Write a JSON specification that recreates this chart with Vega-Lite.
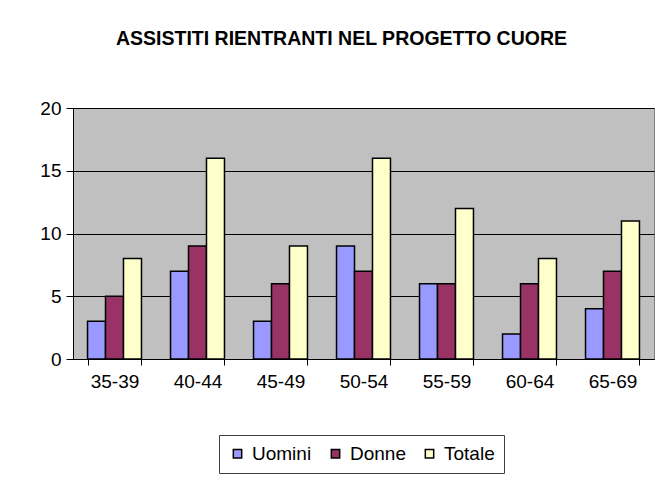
{
  "$schema": "https://vega.github.io/schema/vega-lite/v6.json",
  "width": 581,
  "height": 251,
  "autosize": {"type": "none"},
  "padding": {"left": 73, "top": 108, "right": 6, "bottom": 123},
  "background": "white",
  "title": {
    "text": "ASSISTITI  RIENTRANTI NEL PROGETTO CUORE",
    "font": "Liberation Sans",
    "fontSize": 19.5,
    "fontWeight": "bold",
    "color": "black",
    "anchor": "middle",
    "baseline": "alphabetic",
    "offset": 64,
    "dx": -22,
    "dy": 29
  },
  "data": {
    "values": [
      {"age": "35-39", "serie": "Uomini", "n": 3},
      {"age": "35-39", "serie": "Donne", "n": 5},
      {"age": "35-39", "serie": "Totale", "n": 8},
      {"age": "40-44", "serie": "Uomini", "n": 7},
      {"age": "40-44", "serie": "Donne", "n": 9},
      {"age": "40-44", "serie": "Totale", "n": 16},
      {"age": "45-49", "serie": "Uomini", "n": 3},
      {"age": "45-49", "serie": "Donne", "n": 6},
      {"age": "45-49", "serie": "Totale", "n": 9},
      {"age": "50-54", "serie": "Uomini", "n": 9},
      {"age": "50-54", "serie": "Donne", "n": 7},
      {"age": "50-54", "serie": "Totale", "n": 16},
      {"age": "55-59", "serie": "Uomini", "n": 6},
      {"age": "55-59", "serie": "Donne", "n": 6},
      {"age": "55-59", "serie": "Totale", "n": 12},
      {"age": "60-64", "serie": "Uomini", "n": 2},
      {"age": "60-64", "serie": "Donne", "n": 6},
      {"age": "60-64", "serie": "Totale", "n": 8},
      {"age": "65-69", "serie": "Uomini", "n": 4},
      {"age": "65-69", "serie": "Donne", "n": 7},
      {"age": "65-69", "serie": "Totale", "n": 11}
    ]
  },
  "mark": {"type": "bar", "stroke": "black", "strokeWidth": 1.5, "cornerRadius": 0},
  "encoding": {
    "x": {
      "field": "age",
      "type": "nominal",
      "sort": null,
      "title": null,
      "scale": {"paddingInner": 0.35, "paddingOuter": 0.175},
      "axis": {
        "labelAngle": 0,
        "tickBand": "extent",
        "tickSize": 6,
        "tickColor": "black",
        "domainColor": "black",
        "labelFont": "Liberation Sans",
        "labelFontSize": 19,
        "labelColor": "black",
        "labelPadding": 7,
        "grid": false
      }
    },
    "xOffset": {
      "field": "serie",
      "type": "nominal",
      "sort": ["Uomini", "Donne", "Totale"],
      "scale": {"paddingInner": 0, "paddingOuter": 0}
    },
    "y": {
      "field": "n",
      "type": "quantitative",
      "title": null,
      "scale": {"domain": [0, 20], "nice": false},
      "axis": {
        "values": [0, 5, 10, 15, 20],
        "tickSize": 7,
        "tickColor": "black",
        "domainColor": "black",
        "gridColor": "black",
        "gridOpacity": 1,
        "grid": true,
        "labelFont": "Liberation Sans",
        "labelFontSize": 19,
        "labelColor": "black",
        "labelPadding": 5
      }
    },
    "color": {
      "field": "serie",
      "type": "nominal",
      "sort": ["Uomini", "Donne", "Totale"],
      "scale": {"domain": ["Uomini", "Donne", "Totale"], "range": ["#9999FF", "#993366", "#FFFFCC"]},
      "legend": {
        "title": null,
        "orient": "none",
        "legendX": 146,
        "legendY": 327,
        "direction": "horizontal",
        "symbolType": "square",
        "symbolSize": 70,
        "symbolStrokeColor": "black",
        "symbolStrokeWidth": 1.5,
        "symbolOpacity": 1,
        "labelFont": "Liberation Sans",
        "labelFontSize": 19,
        "labelColor": "black",
        "strokeColor": "#404040",
        "fillColor": "white",
        "padding": 9,
        "columnPadding": 14,
        "labelOffset": 5
      }
    }
  },
  "config": {
    "view": {"fill": "#C0C0C0", "stroke": "#808080", "strokeWidth": 1},
    "axis": {"domainWidth": 1, "tickWidth": 1, "gridWidth": 1}
  }
}
